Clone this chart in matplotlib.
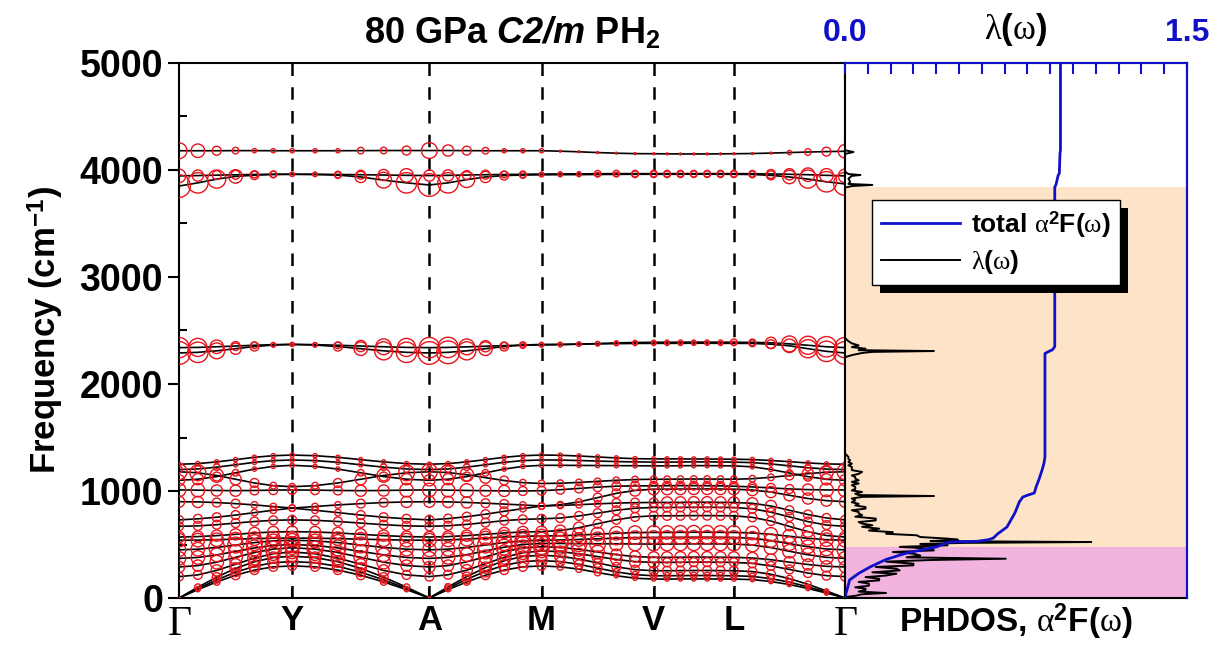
import numpy as np
import matplotlib.pyplot as plt
from matplotlib.lines import Line2D
from matplotlib.patches import Rectangle
from matplotlib.ticker import MultipleLocator

plt.rcParams['font.family'] = 'Liberation Sans'
plt.rcParams['font.weight'] = 'bold'
plt.rcParams['axes.titleweight'] = 'bold'
plt.rcParams['axes.labelweight'] = 'bold'
plt.rcParams['mathtext.fontset'] = 'custom'
plt.rcParams['mathtext.rm'] = 'Liberation Serif:weight=normal'
plt.rcParams['mathtext.it'] = 'Liberation Serif:italic:weight=normal'
plt.rcParams['mathtext.sf'] = 'Liberation Sans:italic:bold'
plt.rcParams['mathtext.bf'] = 'Liberation Sans:bold'

# high-symmetry path (distance along path) and labels
node_x = [0, 113, 250, 362, 474, 554, 665]
node_lab = [r'$\mathrm{\Gamma}$', 'Y', 'A', 'M', 'V', 'L', r'$\mathrm{\Gamma}$']
n_sub = 6

# phonon branches (cm-1), 7 points on first segment then 6 per following segment
a1 = [0, 78, 150, 213, 261, 291, 300, 291, 261, 213, 150, 78, 0, 78, 150, 213, 261, 291, 300,
      291, 270, 238, 208, 185, 177, 177, 178, 178, 178, 177, 177, 172, 154, 126, 89, 46, 0]
a2 = [0, 88, 170, 241, 296, 330, 340, 330, 296, 241, 170, 88, 0, 91, 175, 249, 305, 340, 350,
      340, 315, 279, 244, 218, 208, 208, 209, 210, 210, 209, 208, 202, 181, 148, 104, 54, 0]
a3 = [0, 101, 195, 277, 339, 378, 390, 378, 339, 277, 195, 101, 0, 104, 200, 284, 348, 388, 400,
      390, 364, 328, 291, 265, 255, 255, 256, 257, 257, 256, 255, 247, 222, 181, 128, 66, 0]
o4 = [200, 216, 258, 315, 373, 414, 430, 414, 373, 315, 258, 216, 200, 217, 260, 320, 380, 423, 440,
      433, 413, 387, 360, 340, 333, 333, 334, 335, 335, 334, 333, 324, 300, 267, 233, 209, 200]
o5 = [290, 303, 335, 380, 425, 457, 470, 457, 425, 380, 335, 303, 290, 303, 338, 385, 433, 467, 480,
      473, 455, 430, 405, 387, 380, 380, 381, 382, 382, 381, 380, 374, 358, 335, 313, 296, 290]
o6 = [370, 379, 403, 435, 468, 491, 500, 491, 468, 435, 403, 379, 370, 380, 405, 440, 475, 500, 510,
      510, 508, 507, 506, 505, 504, 504, 505, 506, 506, 505, 504, 495, 471, 437, 404, 380, 370]
o7 = [450, 456, 473, 495, 518, 534, 540, 534, 518, 495, 473, 456, 450, 456, 473, 495, 518, 534, 540,
      542, 547, 553, 560, 564, 566, 566, 567, 568, 568, 567, 566, 558, 537, 508, 479, 458, 450]
o8 = [540, 541, 545, 550, 555, 559, 560, 559, 555, 550, 545, 541, 540, 543, 550, 560, 570, 577, 580,
      582, 588, 597, 605, 611, 613, 613, 614, 615, 615, 614, 613, 608, 595, 577, 558, 545, 540]
o9 = [570, 574, 583, 595, 608, 617, 620, 617, 608, 595, 583, 574, 570, 574, 583, 595, 608, 617, 620,
      630, 657, 694, 731, 758, 768, 768, 769, 770, 770, 769, 768, 754, 719, 669, 620, 584, 570]
o10 = [670, 674, 685, 700, 715, 726, 730, 726, 715, 700, 685, 674, 670, 675, 688, 705, 723, 735, 740,
       747, 767, 793, 820, 839, 846, 846, 847, 848, 848, 847, 846, 834, 802, 758, 714, 682, 670]
o11 = [730, 740, 755, 775, 798, 820, 840, 820, 798, 775, 755, 740, 730, 742, 760, 783, 810, 835, 860,
       865, 872, 880, 887, 891, 893, 893, 894, 895, 895, 894, 893, 885, 860, 820, 780, 748, 730]
o12 = [900, 898, 892, 882, 870, 855, 840, 855, 870, 882, 892, 898, 900, 898, 893, 886, 878, 869, 860,
       872, 898, 938, 978, 1005, 1017, 1017, 1018, 1019, 1019, 1018, 1017, 1009, 990, 960, 930, 910, 900]
o13 = [1010, 1008, 1005, 1003, 1005, 1008, 1010, 1008, 1005, 1003, 1005, 1008, 1010, 1008, 1005, 1003,
       1001, 1000, 1003, 1012, 1024, 1036, 1045, 1048, 1048, 1049, 1050, 1050, 1049, 1048, 1045, 1038,
       1029, 1019, 1013, 1010, 1010]
o14 = [1180, 1170, 1145, 1110, 1075, 1050, 1040, 1050, 1075, 1110, 1145, 1170, 1180, 1172, 1152, 1125,
       1098, 1078, 1070, 1073, 1080, 1090, 1100, 1107, 1110, 1110, 1111, 1112, 1112, 1111, 1110, 1115,
       1128, 1145, 1163, 1175, 1180]
o15 = [1100, 1110, 1135, 1170, 1205, 1230, 1240, 1230, 1205, 1170, 1135, 1110, 1100, 1110, 1135, 1170,
       1205, 1230, 1240, 1240, 1239, 1238, 1237, 1236, 1235, 1235, 1236, 1237, 1237, 1236, 1235, 1226,
       1201, 1168, 1134, 1109, 1100]
o16 = [1200, 1206, 1223, 1245, 1268, 1284, 1290, 1284, 1268, 1245, 1223, 1206, 1200, 1206, 1223, 1245,
       1268, 1284, 1290, 1289, 1285, 1280, 1275, 1272, 1270, 1270, 1271, 1272, 1272, 1271, 1270, 1265,
       1253, 1235, 1218, 1205, 1200]
o17 = [1250, 1256, 1272, 1293, 1315, 1330, 1336, 1330, 1315, 1293, 1272, 1256, 1250, 1256, 1272, 1293,
       1315, 1330, 1336, 1334, 1327, 1318, 1309, 1302, 1300, 1300, 1300, 1299, 1299, 1298, 1297, 1294,
       1285, 1274, 1262, 1253, 1250]
m1 = [2290, 2296, 2310, 2330, 2350, 2364, 2370, 2364, 2350, 2330, 2310, 2296, 2290, 2296, 2310, 2330,
      2350, 2364, 2370, 2371, 2373, 2375, 2377, 2379, 2380, 2380, 2380, 2381, 2381, 2380, 2380, 2379,
      2372, 2357, 2330, 2305, 2290]
m2 = [2340, 2342, 2348, 2355, 2362, 2368, 2370, 2368, 2362, 2355, 2348, 2342, 2340, 2342, 2347, 2353,
      2359, 2363, 2365, 2367, 2372, 2378, 2384, 2388, 2390, 2390, 2391, 2391, 2391, 2391, 2390, 2389,
      2385, 2375, 2362, 2348, 2340]
h1 = [3850, 3880, 3915, 3940, 3952, 3958, 3960, 3958, 3952, 3935, 3905, 3880, 3860, 3880, 3910, 3935,
      3948, 3953, 3955, 3956, 3957, 3958, 3959, 3960, 3960, 3960, 3960, 3961, 3961, 3960, 3960, 3958,
      3950, 3935, 3915, 3890, 3870]
h2 = [3945, 3948, 3952, 3955, 3958, 3960, 3960, 3960, 3958, 3956, 3953, 3950, 3948, 3950, 3953, 3956,
      3958, 3960, 3962, 3963, 3964, 3965, 3966, 3966, 3966, 3966, 3966, 3966, 3966, 3966, 3966, 3965,
      3963, 3960, 3956, 3950, 3945]
h3 = [4180, 4180, 4180, 4181, 4181, 4180, 4180, 4180, 4180, 4181, 4182, 4182, 4182, 4182, 4181, 4180,
      4180, 4180, 4180, 4176, 4170, 4163, 4157, 4153, 4152, 4151, 4150, 4150, 4150, 4151, 4152, 4154,
      4158, 4163, 4168, 4172, 4175]

# mode coupling strength (0-9) at the same k-points
w_a1 = "0123333" "333210" "123333" "222111" "111111" "111110"
w_a2 = "0123444" "443210" "234444" "333222" "222222" "222110"
w_a3 = "0234444" "444320" "234444" "443333" "333333" "332210"
w_o4 = "3344555" "554433" "345555" "444444" "333333" "333333"
w_o5 = "4455565" "655544" "455566" "555444" "444444" "444444"
w_o6 = "5555666" "665555" "556666" "666555" "555555" "555555"
w_o7 = "5566655" "566655" "566666" "655555" "555555" "555556"
w_o8 = "5555555" "555555" "555555" "555555" "555555" "555555"
w_o9 = "4444444" "444444" "444444" "443333" "333333" "333444"
w_o10 = "3333333" "333333" "333333" "333333" "333333" "333333"
w_o11 = "3333222" "223333" "333322" "222333" "444444" "443333"
w_o12 = "4433222" "223344" "443322" "223344" "444444" "444444"
w_o13 = "5544333" "334455" "554433" "333333" "333333" "333455"
w_o14 = "6654322" "234566" "654322" "222222" "222222" "223456"
w_o15 = "4432111" "112344" "432111" "111111" "111111" "112344"
w_o16 = "2221111" "111222" "221111" "111111" "111111" "111222"
w_o17 = "1111111" "111111" "111111" "111111" "111111" "111111"
w_m1 = "9864310" "135789" "975321" "111111" "111111" "235789"
w_m2 = "8753211" "124678" "864211" "111111" "111112" "246788"
w_h1 = "9875321" "124689" "864321" "111122" "222222" "235789"
w_h2 = "5433221" "123454" "433221" "112222" "222222" "234555"
w_h3 = "6532111" "112236" "432111" "000000" "000000" "001235"

# phonon DOS (arb. units) versus frequency
dos_freq = [0, 9, 20, 35, 47, 60, 75, 87, 100, 115, 134, 150, 165, 180, 195, 210, 227, 240, 258, 274,
            290, 305, 321, 340, 355, 367, 380, 397, 414, 430, 445, 461, 478, 492, 505, 515, 523, 532,
            545, 555, 570, 586, 600, 615, 630, 648, 665, 680, 695, 710, 725, 742, 760, 775, 790, 804,
            820, 835, 850, 865, 880, 895, 913, 930, 945, 953, 962, 975, 991, 1005, 1020, 1038, 1055,
            1070, 1085, 1100, 1115, 1131, 1145, 1160, 1178, 1195, 1210, 1225, 1240, 1255, 1270, 1287,
            1300, 1318, 1335, 1350, 2250, 2270, 2290, 2300, 2308, 2316, 2330, 2345, 2360, 2380, 2400,
            2430, 3835, 3850, 3860, 3870, 3890, 3920, 3945, 3953, 3962, 3985, 4150, 4168, 4185, 5000]
dos_val = [0, 0.0, 0.03, 0.05, 0.12, 0.04, 0.06, 0.06, 0.03, 0.07, 0.07, 0.04, 0.10, 0.10, 0.06, 0.12,
           0.15, 0.08, 0.16, 0.15, 0.09, 0.20, 0.20, 0.12, 0.25, 0.47, 0.18, 0.22, 0.20, 0.14, 0.26,
           0.25, 0.16, 0.30, 0.22, 0.35, 0.72, 0.25, 0.33, 0.30, 0.22, 0.21, 0.12, 0.14, 0.07, 0.10,
           0.05, 0.08, 0.05, 0.04, 0.09, 0.09, 0.03, 0.05, 0.04, 0.04, 0.02, 0.06, 0.06, 0.03, 0.04,
           0.02, 0.03, 0.02, 0.05, 0.26, 0.04, 0.03, 0.05, 0.02, 0.03, 0.03, 0.02, 0.04, 0.02, 0.04,
           0.03, 0.03, 0.02, 0.04, 0.05, 0.02, 0.02, 0.02, 0.01, 0.02, 0.01, 0.015, 0.01, 0.01, 0.005,
           0, 0, 0.02, 0.05, 0.08, 0.26, 0.04, 0.06, 0.02, 0.04, 0.02, 0.01, 0, 0, 0.02, 0.08, 0.01,
           0.015, 0.01, 0.02, 0.045, 0.01, 0, 0, 0.025, 0, 0]

# cumulative lambda(omega)
lam_freq = [0, 50, 100, 168, 230, 290, 360, 420, 477, 510, 523, 530, 545, 560, 600, 663, 700, 794, 900,
            944, 960, 981, 1050, 1103, 1200, 1262, 1320, 2285, 2300, 2320, 2350, 3840, 3860, 3950, 3970,
            4160, 4180, 5000]
lam_val = [0, 0.005, 0.012, 0.02, 0.06, 0.11, 0.18, 0.27, 0.40, 0.44, 0.46, 0.58, 0.63, 0.65, 0.67,
           0.71, 0.72, 0.745, 0.765, 0.78, 0.80, 0.83, 0.84, 0.85, 0.865, 0.873, 0.877, 0.877, 0.89,
           0.91, 0.92, 0.92, 0.925, 0.935, 0.94, 0.943, 0.945, 0.945]

# shaded frequency windows
pink_band = (0, 477)
peach_band = (477, 3841)

bands = [a1, a2, a3, o4, o5, o6, o7, o8, o9, o10, o11, o12, o13, o14, o15, o16, o17, m1, m2, h1, h2, h3]
weights = [w_a1, w_a2, w_a3, w_o4, w_o5, w_o6, w_o7, w_o8, w_o9, w_o10, w_o11, w_o12, w_o13, w_o14,
           w_o15, w_o16, w_o17, w_m1, w_m2, w_h1, w_h2, w_h3]

kx = [node_x[0]]
for i in range(len(node_x) - 1):
    kx += list(np.linspace(node_x[i], node_x[i + 1], n_sub + 1)[1:])
kx = np.array(kx)

W, H = 1216, 647
fig = plt.figure(figsize=(W / 100, H / 100), dpi=100)
ax1 = fig.add_axes([179 / W, 49 / H, 666 / W, 535 / H])
ax2 = fig.add_axes([845 / W, 49 / H, 342 / W, 535 / H])

red = '#e8141c'
blue = '#1010c8'
for b in bands:
    ax1.plot(kx, b, color='k', lw=1.2, zorder=2)
for b, w in zip(bands, weights):
    d = 2 + 2.3 * np.array([int(c) for c in w])
    ax1.scatter(kx, b, s=(d * 0.72) ** 2, facecolors='none', edgecolors=red,
                linewidths=1.0, zorder=3)
for x in node_x[1:-1]:
    ax1.axvline(x, color='k', lw=1.8, dashes=(5, 4.5), zorder=1)

ax1.set_xlim(node_x[0], node_x[-1])
ax1.set_ylim(0, 5000)
ax1.set_xticks(node_x)
ax1.set_xticklabels(node_lab, fontsize=25)
for t in ax1.get_xticklabels():
    if 'Gamma' in t.get_text():
        t.set_fontsize(30)
ax1.tick_params(axis='x', direction='in', length=7, width=1.5, pad=4)
ax1.yaxis.set_major_locator(MultipleLocator(1000))
ax1.yaxis.set_minor_locator(MultipleLocator(500))
ax1.tick_params(axis='y', which='major', direction='out', length=8, width=1.5, labelsize=27)
ax1.tick_params(axis='y', which='minor', direction='in', length=6, width=1.5)
ax1.set_ylabel(r'Frequency (cm$^{\mathbf{-1}}$)', fontsize=25, labelpad=10)
for s in ax1.spines.values():
    s.set_linewidth(1.5)
ax1.set_title(r'80 GPa $\mathsf{C2/m}$ PH$_{\mathbf{2}}$', fontsize=26, pad=14)

# DOS panel
ax2.axhspan(*pink_band, color='#f2b3de', lw=0, zorder=0)
ax2.axhspan(*peach_band, color='#fde3c7', lw=0, zorder=0)
ax2.plot(dos_val, dos_freq, color='k', lw=1.4, zorder=2)
ax2.set_xlim(0, 1)
ax2.set_ylim(0, 5000)
ax2.set_xticks([])
ax2.set_yticks([])
ax2.set_xlabel(r'PHDOS, $\mathrm{\alpha}^{\mathbf{2}}$F($\mathrm{\omega}$)', fontsize=24, labelpad=3)
for s in ax2.spines.values():
    s.set_linewidth(1.5)

ax3 = ax2.twiny()
ax3.plot(lam_val, lam_freq, color=blue, lw=2.0, zorder=3)
ax3.set_xlim(0, 1.5)
ax3.set_ylim(0, 5000)
ax3.set_xticks([0, 1.5])
ax3.set_xticklabels(['0.0', '1.5'], color=blue, fontsize=23)
ax3.xaxis.set_minor_locator(MultipleLocator(0.1))
ax3.tick_params(axis='x', which='both', direction='in', length=8, width=1.5,
                color=blue, pad=11)
for k in ['top', 'right']:
    ax3.spines[k].set_color(blue)
    ax3.spines[k].set_linewidth(1.5)
ax3.spines['left'].set_visible(False)
ax3.spines['bottom'].set_visible(False)
ax3.text(0.5, 1 + 33 / 535, r'$\mathrm{\lambda}$($\mathrm{\omega}$)', transform=ax3.transAxes,
         ha='center', va='center', fontsize=25)

handles = [Line2D([], [], color=blue, lw=2.0), Line2D([], [], color='k', lw=1.4)]
leg = ax3.legend(handles, [r'total $\mathrm{\alpha}^{\mathbf{2}}$F($\mathrm{\omega}$)',
                           r'$\mathrm{\lambda}$($\mathrm{\omega}$)'],
                 loc='upper left', bbox_to_anchor=(0.079, 0.744), borderaxespad=0,
                 fontsize=19, handlelength=3.0, handletextpad=0.4, labelspacing=0.3,
                 borderpad=0.35, fancybox=False, framealpha=1, edgecolor='k')
leg.get_frame().set_linewidth(1.0)
leg.set_zorder(6)

fig.canvas.draw()
bb = leg.get_window_extent().transformed(ax3.transAxes.inverted())
dx, dy = 8 / 342, 8 / 535
ax3.add_patch(Rectangle((bb.x0 + dx, bb.y0 - dy), bb.width, bb.height, transform=ax3.transAxes,
                        facecolor='k', edgecolor='none', zorder=5, clip_on=False))

fig.savefig('out.png', dpi=100)
